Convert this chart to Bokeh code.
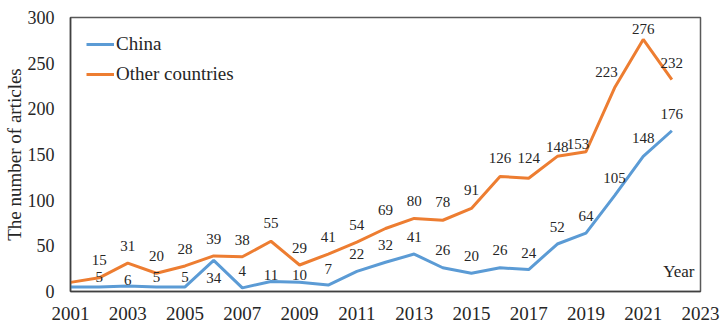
from bokeh.plotting import figure
from bokeh.models import ColumnDataSource, LabelSet, Label, FixedTicker, Legend, LegendItem, Range1d
from bokeh.embed import file_html
from bokeh.resources import INLINE

# ---- data ----
years = list(range(2001, 2023))
china = [5, 5, 6, 5, 5, 34, 4, 11, 10, 7, 22, 32, 41, 26, 20, 26, 24, 52, 64, 105, 148, 176]
other = [10, 15, 31, 20, 28, 39, 38, 55, 29, 41, 54, 69, 80, 78, 91, 126, 124, 148, 153, 223, 276, 232]
x_ticks = list(range(2001, 2024, 2))
y_ticks = list(range(0, 301, 50))

# label placement (style, pixels) for years 2002..2022
china_dy = [10, 6, 10, 10, -18, 17, 6, 7, 16, 17, 17, 17, 18, 17, 18, 17, 17, 17, 18, 18, 17]
other_dy = [18, 17, 17, 17, 17, 17, 18, 17, 17, 17, 18, 17, 18, 18, 18, 20, 9, 8, 16, 10, 17]
other_dx = [0] * 17 + [-8, -8, 0, 0]

BLUE = "#5B9BD5"
ORANGE = "#ED7D31"
FONT = "Liberation Serif"
TXT = "#262626"

p = figure(width=720, height=332, output_backend="svg", toolbar_location=None,
           x_range=Range1d(2001, 2023), y_range=Range1d(0, 300),
           min_border_left=68, min_border_right=20, min_border_top=17, min_border_bottom=41)
p.background_fill_color = "white"
p.border_fill_color = "white"
p.outline_line_color = "#595959"
p.outline_line_width = 1.5
p.grid.visible = False

for ax in (p.xaxis[0], p.yaxis[0]):
    ax.major_tick_line_color = None
    ax.minor_tick_line_color = None
    ax.major_tick_out = 0
    ax.major_tick_in = 0
    ax.axis_line_color = "#404040"
    ax.axis_line_width = 1.5
    ax.major_label_text_font = FONT
    ax.major_label_text_color = TXT

p.xaxis.major_label_text_font_size = "19px"
p.yaxis.major_label_text_font_size = "18px"
p.xaxis.ticker = FixedTicker(ticks=x_ticks)
p.yaxis.ticker = FixedTicker(ticks=y_ticks)
p.xaxis.major_label_standoff = 15
p.yaxis.major_label_standoff = 16
p.yaxis.axis_label = "The number of articles"
p.yaxis.axis_label_text_font = FONT
p.yaxis.axis_label_text_font_size = "19px"
p.yaxis.axis_label_text_font_style = "normal"
p.yaxis.axis_label_text_color = TXT
p.yaxis.axis_label_standoff = 0

src = ColumnDataSource(dict(x=years, china=china, other=other))
r_china = p.line("x", "china", source=src, line_color=BLUE, line_width=3)
r_other = p.line("x", "other", source=src, line_color=ORANGE, line_width=3)

lab_china = ColumnDataSource(dict(x=years[1:], y=china[1:], t=[str(v) for v in china[1:]],
                                  dy=china_dy, dx=[0] * len(china_dy)))
lab_other = ColumnDataSource(dict(x=years[1:], y=other[1:], t=[str(v) for v in other[1:]],
                                  dy=other_dy, dx=other_dx))
for s in (lab_china, lab_other):
    p.add_layout(LabelSet(x="x", y="y", text="t", source=s, x_offset="dx", y_offset="dy",
                          text_align="center", text_baseline="middle",
                          text_font=FONT, text_font_size="15px", text_color=TXT))

legend = Legend(items=[LegendItem(label="China", renderers=[r_china]),
                       LegendItem(label="Other countries", renderers=[r_other])],
                location="top_left", margin=16, padding=0, spacing=8,
                glyph_width=28, glyph_height=20, label_standoff=2,
                label_text_font=FONT, label_text_font_size="19px", label_text_color=TXT,
                border_line_color=None, background_fill_alpha=0)
p.add_layout(legend)

p.add_layout(Label(x=2023, y=0, x_offset=-6, y_offset=20, text="Year", text_align="right",
                   text_baseline="alphabetic", text_font=FONT, text_font_size="17px", text_color=TXT))

open("out.html", "w").write(file_html(p, INLINE))
